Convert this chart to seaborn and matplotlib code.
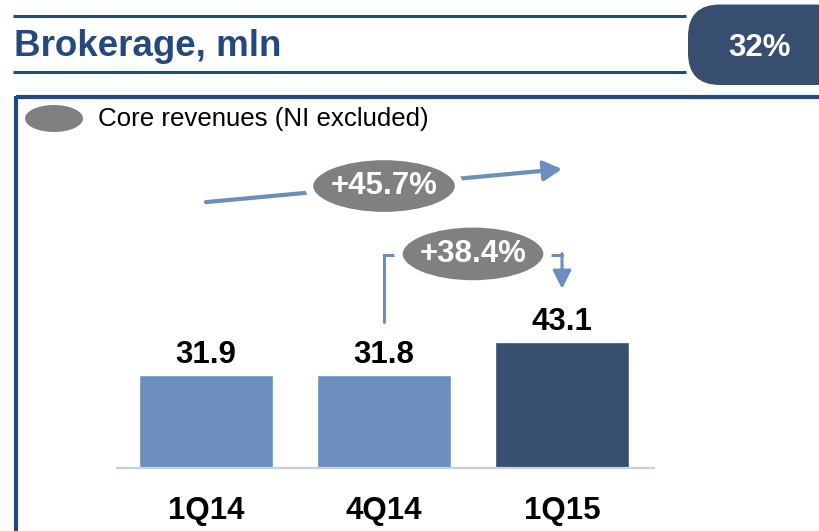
import matplotlib
matplotlib.use("Agg")
import matplotlib.pyplot as plt
import seaborn as sns
from matplotlib.patches import Ellipse, FancyBboxPatch

# ma'lumotlar
quarters = ["1Q14", "4Q14", "1Q15"]
revenues = [31.9, 31.8, 43.1]
bar_colors = ["#6C8EBF", "#6C8EBF", "#384F70"]
growth_year = "+45.7%"
growth_quarter = "+38.4%"
share_label = "32%"
title_text = "Brokerage, mln"
legend_text = "Core revenues (NI excluded)"

sns.set_theme(style="white")
plt.rcParams["font.family"] = ["Liberation Sans", "DejaVu Sans"]

dark_blue = "#24497F"
arrow_col = "#6C8EBF"
gray = "#808080"

fig = plt.figure(figsize=(8.19, 5.31), dpi=100)

# fon uchun pikselli o'qlar (bezaklar)
bg = fig.add_axes([0, 0, 1, 1])
bg.set_xlim(0, 819)
bg.set_ylim(531, 0)
bg.axis("off")

bg.plot([13, 686], [16, 16], color=dark_blue, lw=2.2, solid_capstyle="butt")
bg.plot([13, 686], [72, 72], color=dark_blue, lw=2.2, solid_capstyle="butt")
bg.text(14, 56, title_text, color=dark_blue, fontsize=26.5, fontweight="bold", va="baseline", ha="left")

box = FancyBboxPatch((688, 4.5), 160, 80.5, boxstyle="round,pad=0,rounding_size=32",
                     fc="#384E70", ec="none")
bg.add_patch(box)
bg.text(760, 48, share_label, color="white", fontsize=22.5, fontweight="bold", ha="center", va="center")

# ramka
bg.plot([16, 819], [97, 97], color=dark_blue, lw=3, solid_capstyle="butt")
bg.plot([16, 16], [95.5, 531], color=dark_blue, lw=3, solid_capstyle="butt")

# legenda
bg.add_patch(Ellipse((54, 118.5), 58, 27, fc=gray, ec="none"))
bg.text(98, 119, legend_text, fontsize=18.6, color="black", va="center", ha="left")

# bar chart
ax = fig.add_axes([117 / 819, 63 / 531, 536.7 / 819, 371 / 531])
ax.patch.set_alpha(0)
sns.barplot(x=quarters, y=revenues, hue=quarters, palette=bar_colors, legend=False,
            width=0.75, saturation=1, ax=ax)
ax.set_xlim(-0.5, 2.515)
ax.set_ylim(0, 371 / 2.925)
for s in ["top", "right", "left"]:
    ax.spines[s].set_visible(False)
ax.spines["bottom"].set_color("#C5D0E3")
ax.spines["bottom"].set_linewidth(1.6)
ax.set_yticks([])
ax.set_xlabel("")
ax.set_ylabel("")
ax.tick_params(axis="x", length=0, pad=20.5)
for lbl in ax.get_xticklabels():
    lbl.set_fontsize(22.5)
    lbl.set_fontweight("bold")
    lbl.set_color("black")

for i, v in enumerate(revenues):
    ax.annotate(f"{v:.1f}", (i, v), xytext=(0, 8.5), textcoords="offset points",
                ha="center", va="baseline", fontsize=22.5, fontweight="bold", color="black")

# +45.7% strelka
ax.annotate("", xy=(2.0, 102.2), xytext=(0, 90.9),
            arrowprops=dict(arrowstyle="-|>,head_length=0.55,head_width=0.3", mutation_scale=20,
                            lw=3, color=arrow_col, shrinkA=0, shrinkB=0),
            annotation_clip=False)
ax.add_patch(Ellipse((1.0, 96.4), 150 / 178, 60 / 2.925, fc=gray, ec="white", lw=6, clip_on=False, zorder=5))
ax.text(1.0, 96.4, growth_year, color="white", fontsize=22.5, fontweight="bold",
        ha="center", va="center", zorder=6)

# +38.4% qavs strelka
ax.plot([1, 1, 2], [49.9, 72.8, 72.8], color=arrow_col, lw=2.2, clip_on=False,
        solid_joinstyle="miter")
ax.annotate("", xy=(2, 61.3), xytext=(2, 73.3),
            arrowprops=dict(arrowstyle="-|>,head_length=0.55,head_width=0.28", mutation_scale=20,
                            lw=2.2, color=arrow_col, shrinkA=0, shrinkB=0),
            annotation_clip=False)
ax.add_patch(Ellipse((1.5, 73.2), 149 / 178, 61 / 2.925, fc=gray, ec="white", lw=6, clip_on=False, zorder=5))
ax.text(1.5, 73.2, growth_quarter, color="white", fontsize=22.5, fontweight="bold",
        ha="center", va="center", zorder=6)

fig.savefig("out.png", dpi=100)
